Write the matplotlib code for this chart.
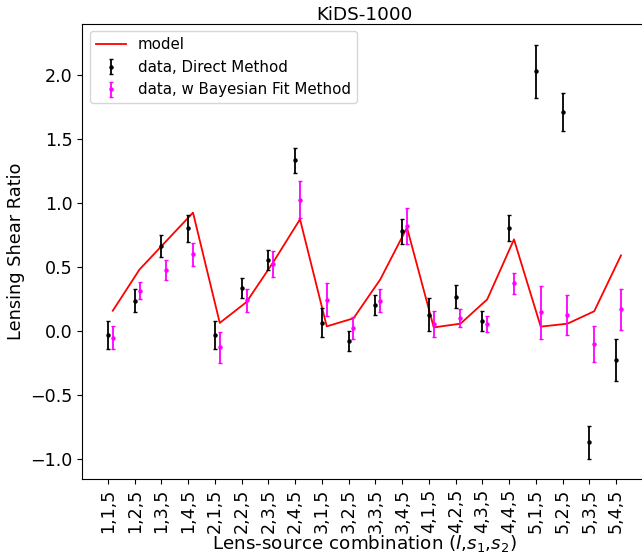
import numpy as np
import matplotlib
matplotlib.use('Agg')
import matplotlib.pyplot as plt

# Lens-source bin combinations (l, s1, s2)
combos = ['1,1,5', '1,2,5', '1,3,5', '1,4,5',
          '2,1,5', '2,2,5', '2,3,5', '2,4,5',
          '3,1,5', '3,2,5', '3,3,5', '3,4,5',
          '4,1,5', '4,2,5', '4,3,5', '4,4,5',
          '5,1,5', '5,2,5', '5,3,5', '5,4,5']

# Shear ratios, direct estimate
direct_ratio = [-0.03, 0.24, 0.666, 0.804, -0.026, 0.337, 0.556, 1.334,
                0.068, -0.075, 0.204, 0.781, 0.131, 0.272, 0.081, 0.807,
                2.031, 1.713, -0.864, -0.224]
direct_err = [0.11, 0.087, 0.086, 0.103, 0.108, 0.08, 0.077, 0.098,
              0.114, 0.078, 0.076, 0.098, 0.128, 0.089, 0.077, 0.102,
              0.2075, 0.147, 0.129, 0.162]

# Shear ratios, weighted Bayesian fit
bayes_ratio = [-0.049, 0.319, 0.478, 0.601, -0.125, 0.243, 0.528, 1.029,
               0.246, 0.024, 0.24, 0.822, 0.058, 0.105, 0.058, 0.376,
               0.149, 0.128, -0.099, 0.172]
bayes_err = [0.089, 0.07, 0.076, 0.09, 0.121, 0.09, 0.10, 0.147,
             0.129, 0.087, 0.087, 0.141, 0.10, 0.07, 0.061, 0.081,
             0.207, 0.155, 0.142, 0.159]

# Model prediction
model_ratio = [0.161, 0.483, 0.705, 0.927, 0.066, 0.229, 0.54, 0.875,
               0.039, 0.102, 0.405, 0.81, 0.031, 0.06, 0.25, 0.718,
               0.037, 0.06, 0.157, 0.593]

x = np.arange(len(combos))
shift = 0.18

fig = plt.figure(figsize=(6.42, 5.56), dpi=100)
ax = fig.add_axes([0.1282, 0.138, 0.879, 0.819])

ax.plot(x + shift, model_ratio, color='red', lw=1.3, label='model')
ax.errorbar(x, direct_ratio, yerr=direct_err, fmt='o', ms=2.2, color='black',
            ecolor='black', elinewidth=1.3, capsize=1.5, label='data, Direct Method')
ax.errorbar(x + shift, bayes_ratio, yerr=bayes_err, fmt='o', ms=2.2, color='magenta',
            ecolor='magenta', elinewidth=1.3, capsize=1.5,
            label='data, w Bayesian Fit Method')

ax.set_xticks(x)
ax.set_xticklabels(combos, rotation=90)
ax.tick_params(labelsize=12.6)
ax.set_xlabel(r'Lens-source combination ($l$,$s_1$,$s_2$)', fontsize=13.2, labelpad=0)
ax.set_ylabel('Lensing Shear Ratio', fontsize=12.8)
ax.set_title('KiDS-1000', fontsize=13.2, pad=3)
ax.legend(loc='upper left', fontsize=10.8)

fig.savefig('out.png', dpi=100)
plt.close(fig)
